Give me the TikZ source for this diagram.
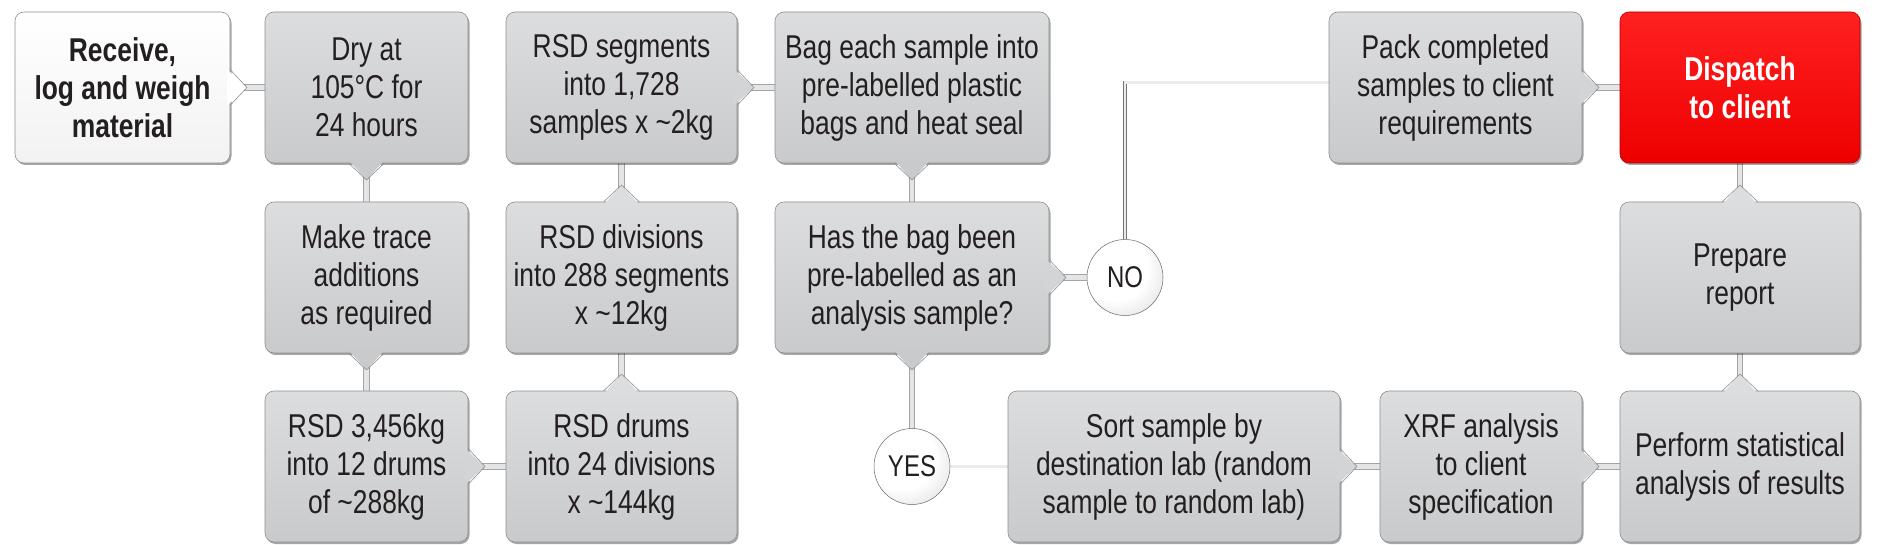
\documentclass[tikz,border=0pt]{standalone}
\usepackage{fontspec}
\setmainfont{Liberation Sans}[FakeStretch=0.80]
\usetikzlibrary{shadows}
\pgfdeclarelayer{bg}
\pgfsetlayers{bg,main}
\definecolor{txt}{HTML}{231F20}
\definecolor{gtop}{HTML}{DCDDDF}
\definecolor{gmid}{HTML}{D3D4D6}
\definecolor{gbot}{HTML}{C9CACC}
\definecolor{gedge}{HTML}{8E8F91}
\definecolor{cedge}{HTML}{A3A4A6}
\definecolor{cin}{HTML}{E4E5E7}
\definecolor{rtop}{HTML}{FF2020}
\definecolor{rbot}{HTML}{EE0000}
\definecolor{redge}{HTML}{B00000}
\pgfdeclareradialshading{softball}{\pgfpoint{-12bp}{12bp}}{color(0bp)=(white); color(22bp)=(white); color(36bp)=(black!12); color(45bp)=(black!28); color(50bp)=(black!45)}
\newcommand\dgfont{\fontsize{33}{38}\selectfont}
\newcommand\tabE[2]{%
 \fill[#1] ([shift={(-3pt,18pt)}]#2.east) -- ([xshift=17pt]#2.east) -- ([shift={(-3pt,-18pt)}]#2.east) -- cycle;
 \draw[tabedge] ([yshift=18pt]#2.east) -- ([xshift=17pt]#2.east) -- ([yshift=-18pt]#2.east);}
\newcommand\tabS[2]{%
 \fill[#1] ([shift={(18pt,3pt)}]#2.south) -- ([yshift=-17pt]#2.south) -- ([shift={(-18pt,3pt)}]#2.south) -- cycle;
 \draw[tabedge] ([xshift=18pt]#2.south) -- ([yshift=-17pt]#2.south) -- ([xshift=-18pt]#2.south);}
\newcommand\tabN[2]{%
 \fill[#1] ([shift={(18pt,-3pt)}]#2.north) -- ([yshift=17pt]#2.north) -- ([shift={(-18pt,-3pt)}]#2.north) -- cycle;
 \draw[tabedge] ([xshift=18pt]#2.north) -- ([yshift=17pt]#2.north) -- ([xshift=-18pt]#2.north);}
\tikzset{
  box/.style={rectangle, rounded corners=9pt, minimum height=151pt, inner sep=0pt, outer sep=0pt,
    align=center, text=txt, font=\dgfont, draw=gedge, line width=0.6pt,
    top color=gtop, bottom color=gbot,
    drop shadow={shadow xshift=1.5pt, shadow yshift=-2pt, opacity=0.35, fill=black}},
  whitebox/.style={box, top color=white, bottom color=white!95!black, font=\dgfont\bfseries},
  redbox/.style={box, top color=rtop, bottom color=rbot, draw=redge, text=white, font=\dgfont\bfseries},
  circ/.style={circle, minimum size=76pt, inner sep=0pt, outer sep=0pt, draw=black!60, line width=0.5pt,
    shading=softball, text=txt, font=\fontsize{30}{32}\selectfont},
  tabedge/.style={draw=gedge, line width=0.6pt},
  conn/.style={draw=cedge, line width=0.8pt, double=cin, double distance=4.5pt},
  thinconn/.style={draw=black!55, line width=0.6pt, double=black!8, double distance=2.5pt}
}
\begin{document}
\begin{tikzpicture}[x=1pt,y=-1pt]
\useasboundingbox (0,0) rectangle (1880,545);
% nodes
\node[whitebox, minimum width=215pt] (recv) at (122.5,87.5) {Receive,\\log and weigh\\material};
\node[box, minimum width=203pt] (dry) at (366.5,87.5) {Dry at\\105°C for\\24 hours};
\node[box, minimum width=203pt] (make) at (366.5,277.5) {Make trace\\additions\\as required};
\node[box, minimum width=203pt] (rsd1) at (366.5,466.5) {RSD 3,456kg\\into 12 drums\\of \textasciitilde288kg};
\node[box, minimum width=231pt] (seg) at (621.5,87.5) {RSD segments\\into 1,728\\samples x \textasciitilde2kg};
\node[box, minimum width=231pt] (div) at (621.5,277.5) {RSD divisions\\into 288 segments\\x \textasciitilde12kg};
\node[box, minimum width=231pt] (drums) at (621.5,466.5) {RSD drums\\into 24 divisions\\x \textasciitilde144kg};
\node[box, minimum width=274pt] (bag) at (912,87.5) {Bag each sample into\\pre-labelled plastic\\bags and heat seal};
\node[box, minimum width=274pt] (has) at (912,277.5) {Has the bag been\\pre-labelled as an\\analysis sample?};
\node[circ] (no) at (1125,277.5) {NO};
\node[circ] (yes) at (912,466.5) {YES};
\node[box, minimum width=332pt] (sort) at (1174,466.5) {Sort sample by\\destination lab (random\\sample to random lab)};
\node[box, minimum width=202pt] (xrf) at (1481,466.5) {XRF analysis\\to client\\specification};
\node[box, minimum width=240pt] (perf) at (1740,466.5) {Perform statistical\\analysis of results};
\node[box, minimum width=240pt] (prep) at (1740,277.5) {Prepare\\report};
\node[box, minimum width=253pt] (pack) at (1455.5,87.5) {Pack completed\\samples to client\\requirements};
\node[redbox, minimum width=240pt] (disp) at (1740,87.5) {Dispatch\\to client};
% connectors
\begin{pgfonlayer}{bg}
\draw[conn] (recv) -- (dry);
\draw[conn] (dry) -- (make);
\draw[conn] (make) -- (rsd1);
\draw[conn] (rsd1) -- (drums);
\draw[conn] (drums) -- (div);
\draw[conn] (div) -- (seg);
\draw[conn] (seg) -- (bag);
\draw[conn] (bag) -- (has);
\draw[conn] (has) -- (no);
\draw[conn] (has) -- (yes);
\draw[thinconn] (yes) -- (sort);
\draw[conn] (sort) -- (xrf);
\draw[conn] (xrf) -- (perf);
\draw[conn] (perf) -- (prep);
\draw[conn] (prep) -- (disp);
\draw[conn] (pack) -- (disp);
\draw[thinconn] (no) |- ([yshift=5pt]pack.west);
\end{pgfonlayer}
% tabs
\tabE{white}{recv}
\tabS{gbot}{dry}
\tabS{gbot}{make}
\tabE{gmid}{rsd1}
\tabN{gtop}{drums}
\tabN{gtop}{div}
\tabE{gmid}{seg}
\tabS{gbot}{bag}
\tabE{gmid}{has}
\tabS{gbot}{has}
\tabE{gmid}{sort}
\tabE{gmid}{xrf}
\tabN{gtop}{perf}
\tabN{gtop}{prep}
\tabE{gmid}{pack}
\end{tikzpicture}
\end{document}
